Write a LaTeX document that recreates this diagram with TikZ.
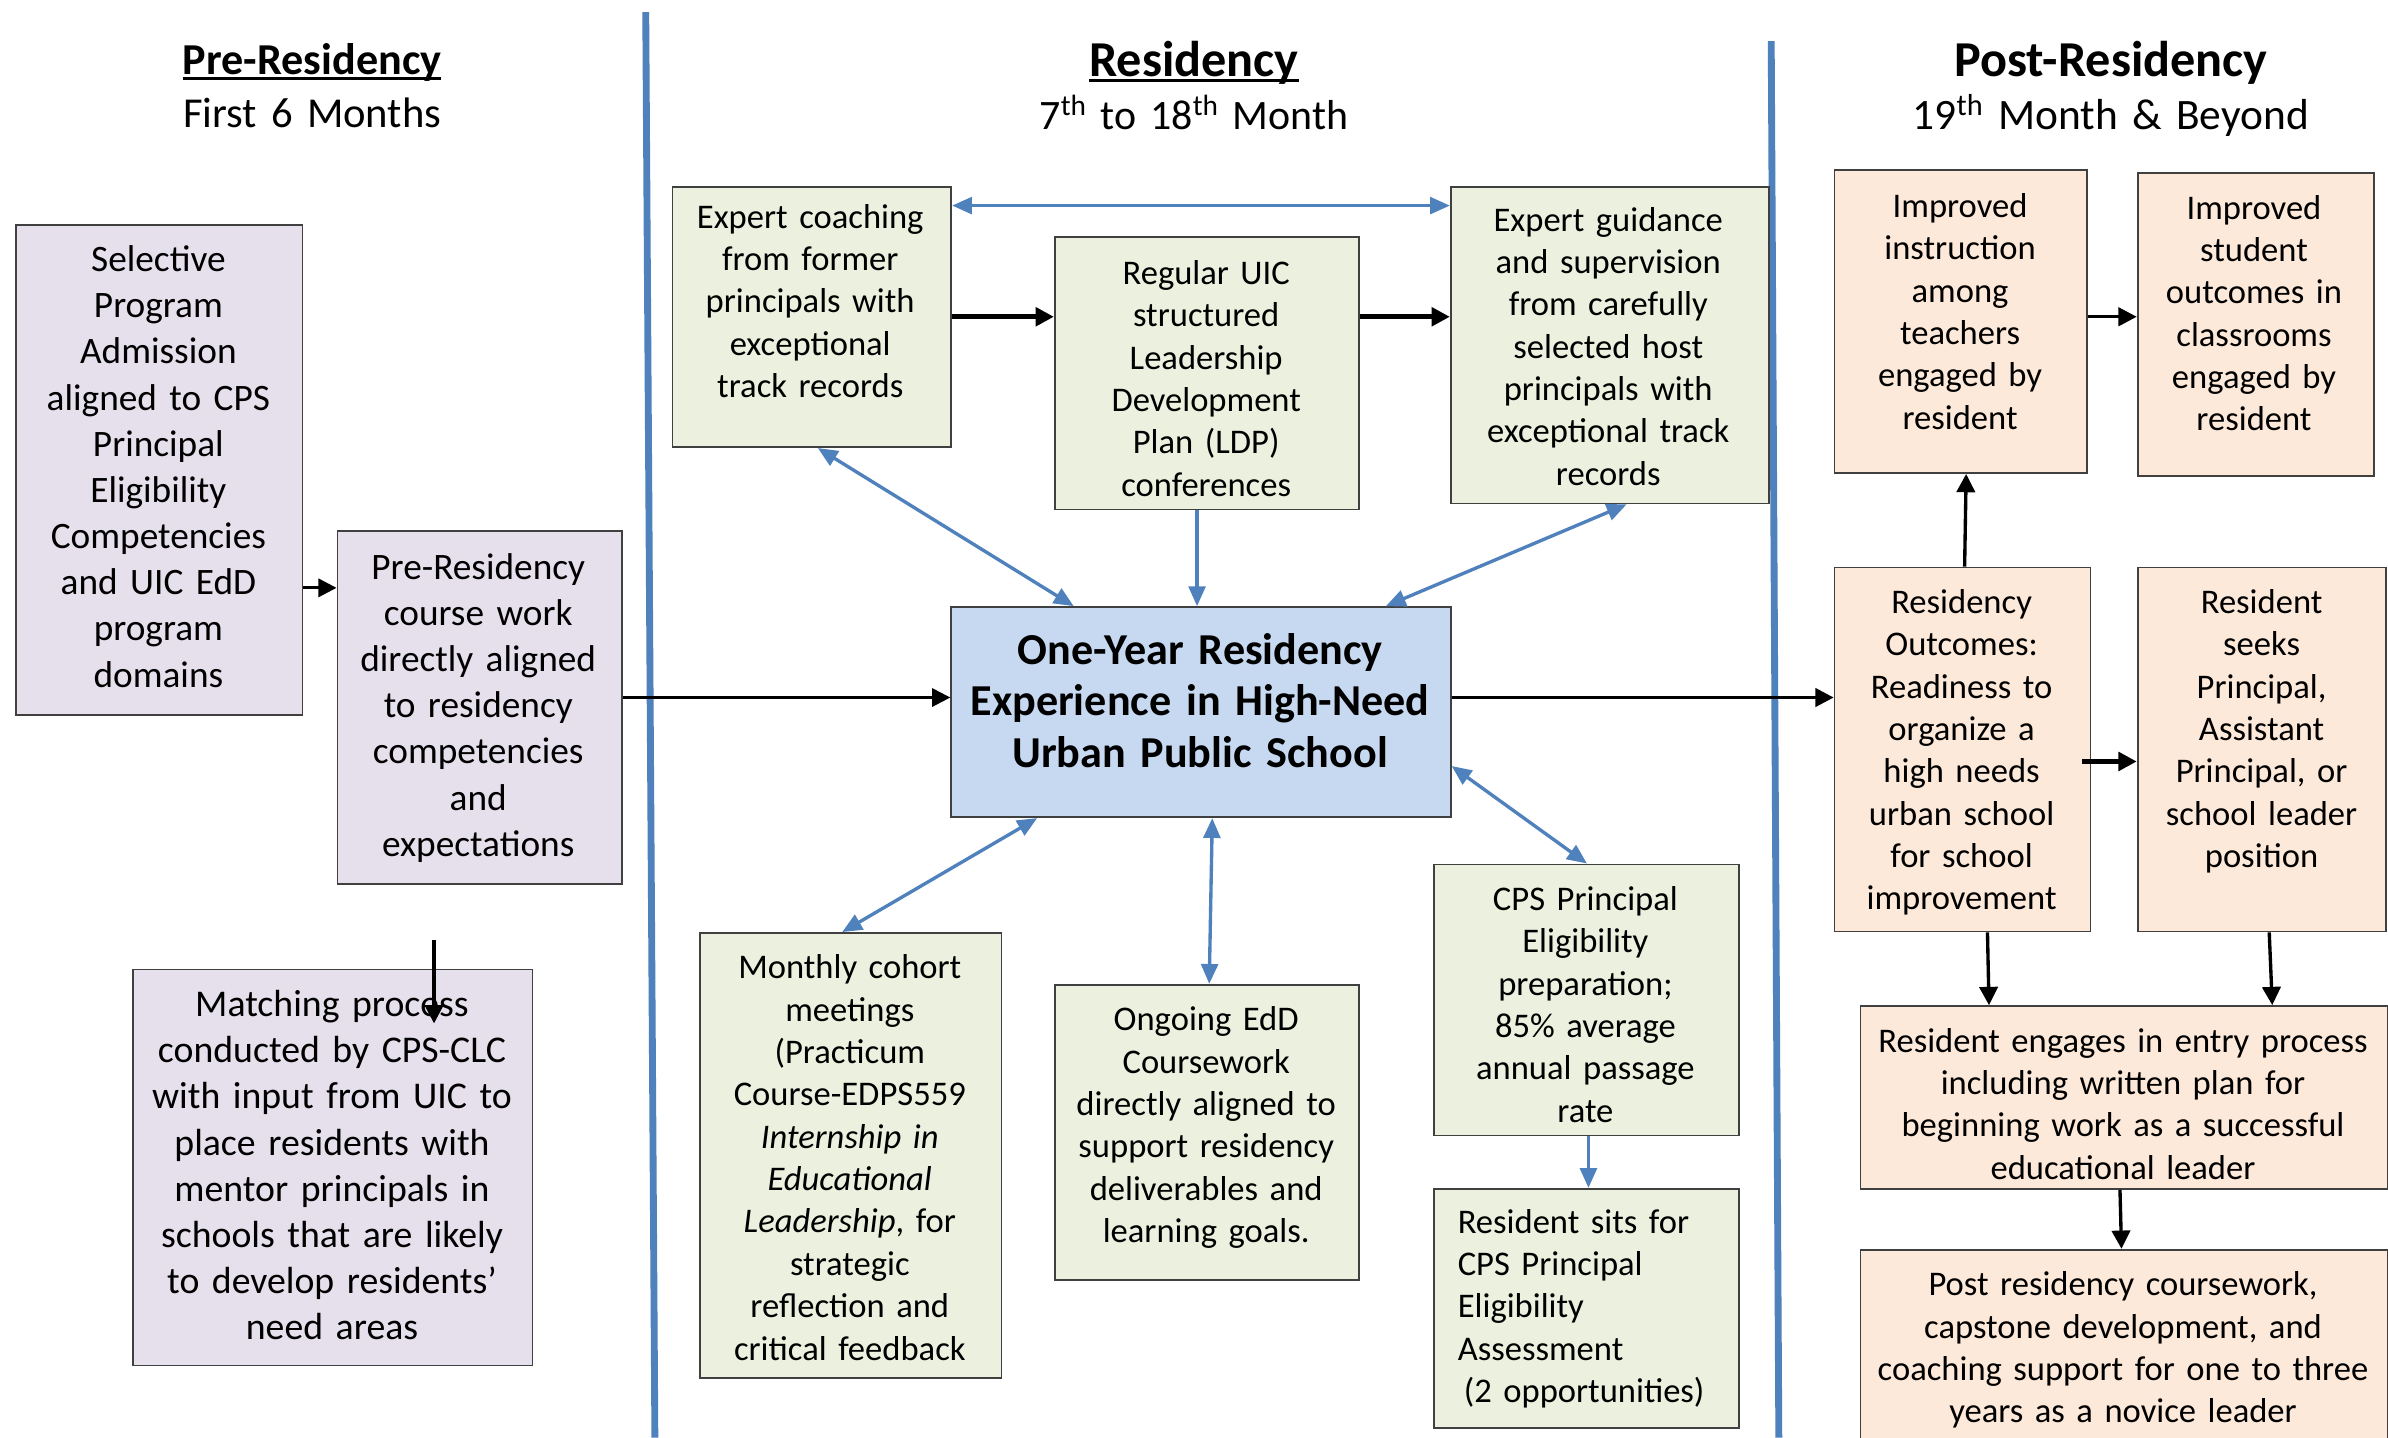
\documentclass[tikz,border=0pt]{standalone}
\usepackage{fontspec}
\setmainfont{Carlito}
\usetikzlibrary{arrows.meta,calc}
\definecolor{lav}{HTML}{E5E0EC}
\definecolor{grn}{HTML}{EBF1DE}
\definecolor{cblue}{HTML}{C6D9F1}
\definecolor{peach}{HTML}{FDE9D9}
\definecolor{lblue}{HTML}{4F81BD}
\definecolor{edge}{HTML}{404040}
\newsavebox\myulbox
\newcommand\myul[1]{\sbox\myulbox{#1}\rlap{\rule[-0.12em]{\wd\myulbox}{0.07em}}\usebox\myulbox}
\tikzset{
  bx/.style={draw=edge, line width=1.2pt, inner sep=0pt, anchor=north west},
  tx/.style={inner sep=0pt, anchor=base, align=center},
  mid/.style={font=\fontsize{22.7}{27.8}\selectfont},
  lft/.style={font=\fontsize{24.5}{30.3}\selectfont},
  barr/.style={draw=black, line width=2.2pt, -{Triangle[length=12pt,width=12pt]}},
  bsgl/.style={draw=lblue, line width=2.2pt, -{Triangle[length=13pt,width=11pt]}},
  bdbl/.style={draw=lblue, line width=2.2pt, {Triangle[length=13pt,width=11pt]}-{Triangle[length=13pt,width=11pt]}},
  sepline/.style={draw=lblue, line width=4.5pt},
}
\begin{document}
\begin{tikzpicture}[x=1pt,y=-1pt]
\useasboundingbox (0,0) rectangle (1568,944);
\fill[white] (0,0) rectangle (1568,944);

% separators
\draw[sepline] (424,8) -- (430,944);
\draw[sepline] (1163,27) -- (1168,944);

% headers
\node[tx, text width=320, font=\fontsize{28}{35}\selectfont] (h1) at (205,49)
  {{\fontsize{29}{35}\selectfont\myul{\textbf{Pre-Residency}}}\\First 6 Months};
\node[tx, text width=320, font=\fontsize{27.5}{35}\selectfont] (h2) at (784,50)
  {{\fontsize{33}{35}\selectfont\myul{\textbf{Residency}}}\\7\textsuperscript{th} to 18\textsuperscript{th} Month};
\node[tx, text width=360, font=\fontsize{28.5}{35}\selectfont] (h3) at (1386,50)
  {{\fontsize{33}{35}\selectfont\textbf{Post-Residency}}\\19\textsuperscript{th} Month \& Beyond};

% left column
\node[bx, fill=lav, minimum width=188, minimum height=322] (b1) at (10,147) {};
\node[tx, lft, text width=210] (b1t) at (104,178.4)
  {Selective\\Program\\Admission\\aligned to CPS\\Principal\\Eligibility\\Competencies\\and UIC EdD\\program\\domains};
\node[bx, fill=lav, minimum width=187, minimum height=232] (b2) at (221,348) {};
\node[tx, lft, text width=210] (b2t) at (314,380.4)
  {Pre-Residency\\course work\\directly aligned\\to residency\\competencies\\and\\expectations};
\node[bx, fill=lav, minimum width=262, minimum height=260] (b3) at (87,636) {};
\node[tx, text width=290, font=\fontsize{24.8}{30.3}\selectfont] (b3t) at (218,667.5)
  {Matching process\\conducted by CPS-CLC\\with input from UIC to\\place residents with\\mentor principals in\\schools that are likely\\to develop residents’\\need areas};

% middle column
\node[bx, fill=grn, minimum width=183, minimum height=171] (c1) at (441,122) {};
\node[tx, mid, text width=210] (c1t) at (532,149.8)
  {Expert coaching\\from former\\principals with\\exceptional\\track records};
\node[bx, fill=grn, minimum width=200, minimum height=179] (c2) at (692,155) {};
\node[tx, mid, text width=220] (c2t) at (792,186.8)
  {Regular UIC\\structured\\Leadership\\Development\\Plan (LDP)\\conferences};
\node[bx, fill=grn, minimum width=209, minimum height=208] (c3) at (952,122) {};
\node[tx, mid, text width=230] (c3t) at (1056,151.8)
  {Expert guidance\\and supervision\\from carefully\\selected host\\principals with\\exceptional track\\records};
\node[bx, fill=cblue, minimum width=328, minimum height=138] (cen) at (624,398) {};
\node[tx, text width=350, font=\fontsize{29}{34}\selectfont\bfseries] (cent) at (788,436)
  {One-Year Residency\\Experience in High-Need\\Urban Public School};
\node[bx, fill=grn, minimum width=198, minimum height=292] (d1) at (459,612) {};
\node[tx, mid, text width=220] (d1t) at (558,642.8)
  {Monthly cohort\\meetings\\(Practicum\\Course-EDPS559\\\textit{Internship in}\\\textit{Educational}\\\textit{Leadership}, for\\strategic\\reflection and\\critical feedback};
\node[bx, fill=grn, minimum width=200, minimum height=194] (d2) at (692,646) {};
\node[tx, mid, text width=220] (d2t) at (792,676.8)
  {Ongoing EdD\\Coursework\\directly aligned to\\support residency\\deliverables and\\learning goals.};
\node[bx, fill=grn, minimum width=200, minimum height=178] (d3) at (941,567) {};
\node[tx, mid, text width=220] (d3t) at (1041,597.8)
  {CPS Principal\\Eligibility\\preparation;\\85\% average\\annual passage\\rate};
\node[bx, fill=grn, minimum width=200, minimum height=157] (d4) at (941,780) {};
\node[inner sep=0pt, anchor=base west, align=left, text width=190, mid] (d4t) at (957,809.8)
  {Resident sits for\\CPS Principal\\Eligibility\\Assessment\\\hspace*{4pt}(2 opportunities)};

% right column
\node[bx, fill=peach, minimum width=166, minimum height=199] (rt1) at (1204,111) {};
\node[tx, mid, text width=190] (rt1t) at (1287,142.8)
  {Improved\\instruction\\among\\teachers\\engaged by\\resident};
\node[bx, fill=peach, minimum width=155, minimum height=199] (rt2) at (1403,113) {};
\node[tx, mid, text width=180] (rt2t) at (1480,143.8)
  {Improved\\student\\outcomes in\\classrooms\\engaged by\\resident};
\node[bx, fill=peach, minimum width=168, minimum height=239] (r1) at (1204,372) {};
\node[tx, mid, text width=190] (r1t) at (1288,402.8)
  {Residency\\Outcomes:\\Readiness to\\organize a\\high needs\\urban school\\for school\\improvement};
\node[bx, fill=peach, minimum width=163, minimum height=239] (r2) at (1403,372) {};
\node[tx, mid, text width=190] (r2t) at (1485,402.8)
  {Resident\\seeks\\Principal,\\Assistant\\Principal, or\\school leader\\position};
\node[bx, fill=peach, minimum width=346, minimum height=120] (r3) at (1221,660) {};
\node[tx, mid, text width=360] (r3t) at (1394,690.8)
  {Resident engages in entry process\\including written plan for\\beginning work as a successful\\educational leader};
\node[bx, fill=peach, minimum width=346, minimum height=135] (r4) at (1221,820) {};
\node[tx, mid, text width=360] (r4t) at (1394,850.8)
  {Post residency coursework,\\capstone development, and\\coaching support for one to three\\years as a novice leader};

% black connectors
\draw[barr, line width=2pt] (b1.east |- 0,386) -- (b2.west |- 0,386);
\draw[barr, line width=1.6pt] (b2.east |- 0,458) -- (cen.west |- 0,458);
\draw[barr] (cen.east |- 0,458) -- (r1.west |- 0,458);
\draw[barr, line width=3pt] (c1.east |- 0,208) -- (c2.west |- 0,208);
\draw[barr, line width=3pt] (c2.east |- 0,208) -- (c3.west |- 0,208);
\draw[barr] (r1.north -| 1290,0) -- (rt1.south -| 1291,0);
\draw[barr] (rt1.east |- 0,208) -- (rt2.west |- 0,208);
\draw[barr, line width=3pt] ($(r1.east |- 0,500)+(-6,0)$) -- (r2.west |- 0,500);
\draw[barr] (r1.south -| 1305,0) -- (r3.north -| 1306,0);
\draw[barr] (r2.south -| 1490,0) -- (r3.north -| 1492,0);
\draw[barr] (r3.south -| 1392,0) -- (r4.north -| 1393,0);
\coordinate (m1) at (285,617);
\coordinate (m2) at (285,672);
\draw[barr] (m1) -- (m2);

% blue connectors
\draw[bdbl] (c1.east |- 0,135) -- (c3.west |- 0,135);
\draw[bdbl] (c1.south -| 537,0) -- (cen.north -| 705,0);
\draw[bsgl] (c2.south -| 786,0) -- (cen.north -| 786,0);
\draw[bdbl] (c3.south -| 1068,0) -- (cen.north -| 910,0);
\draw[bdbl] (cen.south -| 681,0) -- (d1.north -| 553,0);
\draw[bdbl] (cen.south -| 796,0) -- (d2.north -| 794,0);
\draw[bdbl] (cen.east |- 0,503) -- (d3.north -| 1042,0);
\draw[bsgl] (d3.south -| 1043,0) -- (d4.north -| 1043,0);
\end{tikzpicture}
\end{document}
